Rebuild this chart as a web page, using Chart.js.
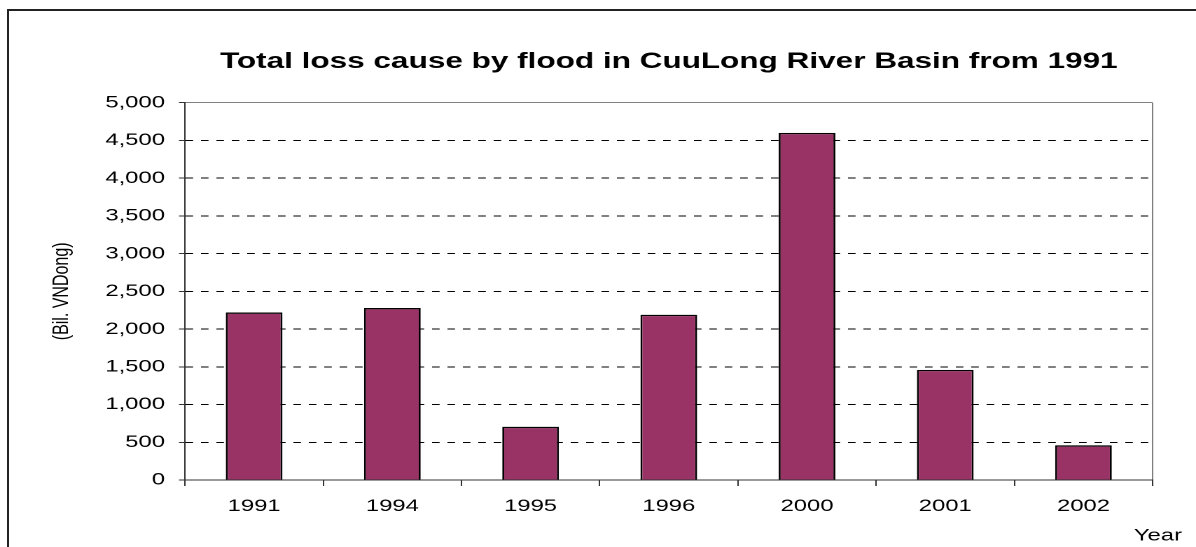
<!DOCTYPE html>
<html>
<head>
<meta charset="utf-8">
<title>Total loss cause by flood in CuuLong River Basin</title>
<script src="https://cdn.jsdelivr.net/npm/chart.js@4.4.0/dist/chart.umd.min.js"></script>
<style>
    html, body { margin: 0; padding: 0; background: #fff; overflow: hidden; }
    body { width: 1196px; height: 547px; position: relative; }
    /* outer chart frame, only top/left edges fall inside the picture */
    #frame {
        position: absolute; left: 7px; top: 9px; width: 2000px; height: 1000px;
        border-left: 2px solid #222; border-top: 2px solid #222;
    }
    /* the original chart was stretched sideways, so we stretch the canvas too */
    #loss-chart {
        position: absolute; left: 0; top: 0;
        transform-origin: 0 0;
    }
</style>
</head>
<body>
<div id="frame"></div>
<canvas id="loss-chart" width="854" height="547"></canvas>
<script>
    // data
    const years = ['1991', '1994', '1995', '1996', '2000', '2001', '2002'];
    const lossValues = [2220, 2280, 705, 2190, 4600, 1460, 460];   // Bil. VNDong
    const yMin = 0;
    const yMax = 5000;
    const yStep = 500;

    const STRETCH = 1196 / 854;
    const FONT = "'Liberation Sans', Arial, sans-serif";
    const DASH = [5.4, 5.6];

    document.getElementById('loss-chart').style.transform = 'scaleX(' + STRETCH + ')';

    // "Year" sits outside the plot area, to the right of the x axis
    const yearLabel = {
        id: 'yearLabel',
        afterDraw(chart) {
            const ctx = chart.ctx;
            ctx.save();
            ctx.font = '17px ' + FONT;
            ctx.fillStyle = '#000';
            ctx.textAlign = 'right';
            ctx.textBaseline = 'middle';
            ctx.fillText('Year', 844, 536);
            ctx.restore();
        }
    };

    new Chart(document.getElementById('loss-chart'), {
        type: 'bar',
        data: {
            labels: years,
            datasets: [{
                label: 'Total loss',
                data: lossValues,
                backgroundColor: '#993366',
                borderColor: '#000',
                borderWidth: 1.4,
                categoryPercentage: 1,
                barPercentage: 0.41
            }]
        },
        options: {
            responsive: false,
            animation: false,
            devicePixelRatio: 2,
            layout: { padding: { left: 0, right: 31, top: 0, bottom: 0 } },
            plugins: {
                legend: { display: false },
                tooltip: { enabled: false },
                title: {
                    display: true,
                    fullSize: false,
                    text: 'Total loss cause by flood in CuuLong River Basin from 1991',
                    color: '#000',
                    font: { family: FONT, size: 22.5, weight: 'bold', lineHeight: 1.2 },
                    padding: { top: 48.5, bottom: 27.2 }
                }
            },
            scales: {
                x: {
                    afterFit(scale) { scale.height = 67; },
                    grid: {
                        offset: true,
                        // only the right edge of the plot frame is drawn here
                        color: (c) => (c.tick ? 'transparent' : '#808080'),
                        tickColor: '#333',
                        tickLength: 6
                    },
                    border: { display: true, color: '#333', width: 1 },
                    ticks: {
                        color: '#000',
                        padding: 10,
                        maxRotation: 0,
                        font: { family: FONT, size: 17 }
                    }
                },
                y: {
                    min: yMin,
                    max: yMax,
                    afterFit(scale) { scale.width = 132.1; },
                    grid: {
                        color: (c) => {
                            const v = c.tick && c.tick.value;
                            if (v === yMax) return '#808080';
                            if (v === yMin) return 'transparent';
                            return '#000';
                        },
                        tickColor: '#333',
                        tickLength: 4.3
                    },
                    border: {
                        display: true,
                        color: '#333',
                        width: 1,
                        dash: (c) => (c.tick && c.tick.value === yMax ? [] : DASH)
                    },
                    ticks: {
                        stepSize: yStep,
                        color: '#000',
                        padding: 10,
                        font: { family: FONT, size: 17 },
                        callback: (value) => Number(value).toLocaleString('en-US')
                    },
                    title: {
                        display: true,
                        text: '(Bil. VNDong)',
                        color: '#000',
                        font: { family: FONT, size: 16, lineHeight: 1.2 },
                        padding: { top: 34.7, bottom: 0 }
                    }
                }
            }
        },
        plugins: [yearLabel]
    });
</script>
</body>
</html>
